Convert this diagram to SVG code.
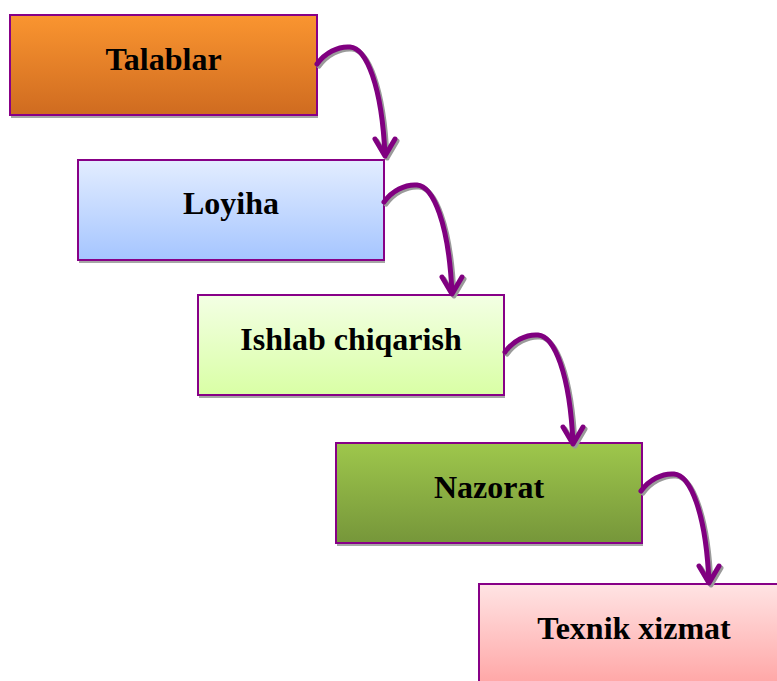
<svg xmlns="http://www.w3.org/2000/svg" xmlns:xlink="http://www.w3.org/1999/xlink" width="777" height="681" viewBox="0 0 777 681">
<style>
.box{stroke:#870087;stroke-width:2}
.shadow{fill:#a6a6a6}
.label{font-family:"Liberation Serif","Times New Roman",serif;font-weight:bold;font-size:32px;fill:#000;text-anchor:middle}
.conn{fill:none;stroke:#800080;stroke-width:5;stroke-linecap:round;stroke-linejoin:round}
.connShadow{fill:none;stroke:#9a9a9a;stroke-width:5;stroke-linecap:round;stroke-linejoin:round}
</style>
<defs>
<linearGradient id="gOrange" x1="0" y1="0" x2="0" y2="1"><stop offset="0" stop-color="#FA9530"/><stop offset="1" stop-color="#CF6B20"/></linearGradient>
<linearGradient id="gBlue" x1="0" y1="0" x2="0" y2="1"><stop offset="0" stop-color="#E3EDFF"/><stop offset="1" stop-color="#A5C5FF"/></linearGradient>
<linearGradient id="gLime" x1="0" y1="0" x2="0" y2="1"><stop offset="0" stop-color="#F3FFE4"/><stop offset="1" stop-color="#D9FFA5"/></linearGradient>
<linearGradient id="gGreen" x1="0" y1="0" x2="0" y2="1"><stop offset="0" stop-color="#9EC74C"/><stop offset="1" stop-color="#76963A"/></linearGradient>
<linearGradient id="gPink" x1="0" y1="0" x2="0" y2="1"><stop offset="0" stop-color="#FFE4E4"/><stop offset="1" stop-color="#FFA6A6"/></linearGradient>
<path id="arc" d="M0,0 C8,-11 21,-18 33,-17 C49,-16 65,21 68,92 M58,75 L68,92 L78,75"/>
</defs>

<g id="node-talablar">
<rect class="shadow" x="11" y="18" width="307" height="100"/>
<rect class="box" x="10" y="15" width="307" height="100" fill="url(#gOrange)"/>
<text class="label" x="163.5" y="70">Talablar</text>
</g>

<g id="node-loyiha">
<rect class="shadow" x="79" y="163" width="306" height="100"/>
<rect class="box" x="78" y="160" width="306" height="100" fill="url(#gBlue)"/>
<text class="label" x="231" y="214">Loyiha</text>
</g>

<g id="node-ishlab">
<rect class="shadow" x="199" y="298" width="306" height="100"/>
<rect class="box" x="198" y="295" width="306" height="100" fill="url(#gLime)"/>
<text class="label" x="351" y="350">Ishlab chiqarish</text>
</g>

<g id="node-nazorat">
<rect class="shadow" x="337" y="446" width="306" height="100"/>
<rect class="box" x="336" y="443" width="306" height="100" fill="url(#gGreen)"/>
<text class="label" x="489" y="498">Nazorat</text>
</g>

<g id="node-texnik">
<rect class="shadow" x="480" y="587" width="310" height="100"/>
<rect class="box" x="479" y="584" width="310" height="100" fill="url(#gPink)"/>
<text class="label" x="634" y="639">Texnik xizmat</text>
</g>

<g id="connectors">
<use href="#arc" xlink:href="#arc" class="connShadow" transform="translate(319,66)"/>
<use href="#arc" xlink:href="#arc" class="conn" transform="translate(317,64)"/>
<use href="#arc" xlink:href="#arc" class="connShadow" transform="translate(386,204)"/>
<use href="#arc" xlink:href="#arc" class="conn" transform="translate(384,202)"/>
<use href="#arc" xlink:href="#arc" class="connShadow" transform="translate(507,354)"/>
<use href="#arc" xlink:href="#arc" class="conn" transform="translate(505,352)"/>
<use href="#arc" xlink:href="#arc" class="connShadow" transform="translate(643,493)"/>
<use href="#arc" xlink:href="#arc" class="conn" transform="translate(641,491)"/>
</g>
</svg>
